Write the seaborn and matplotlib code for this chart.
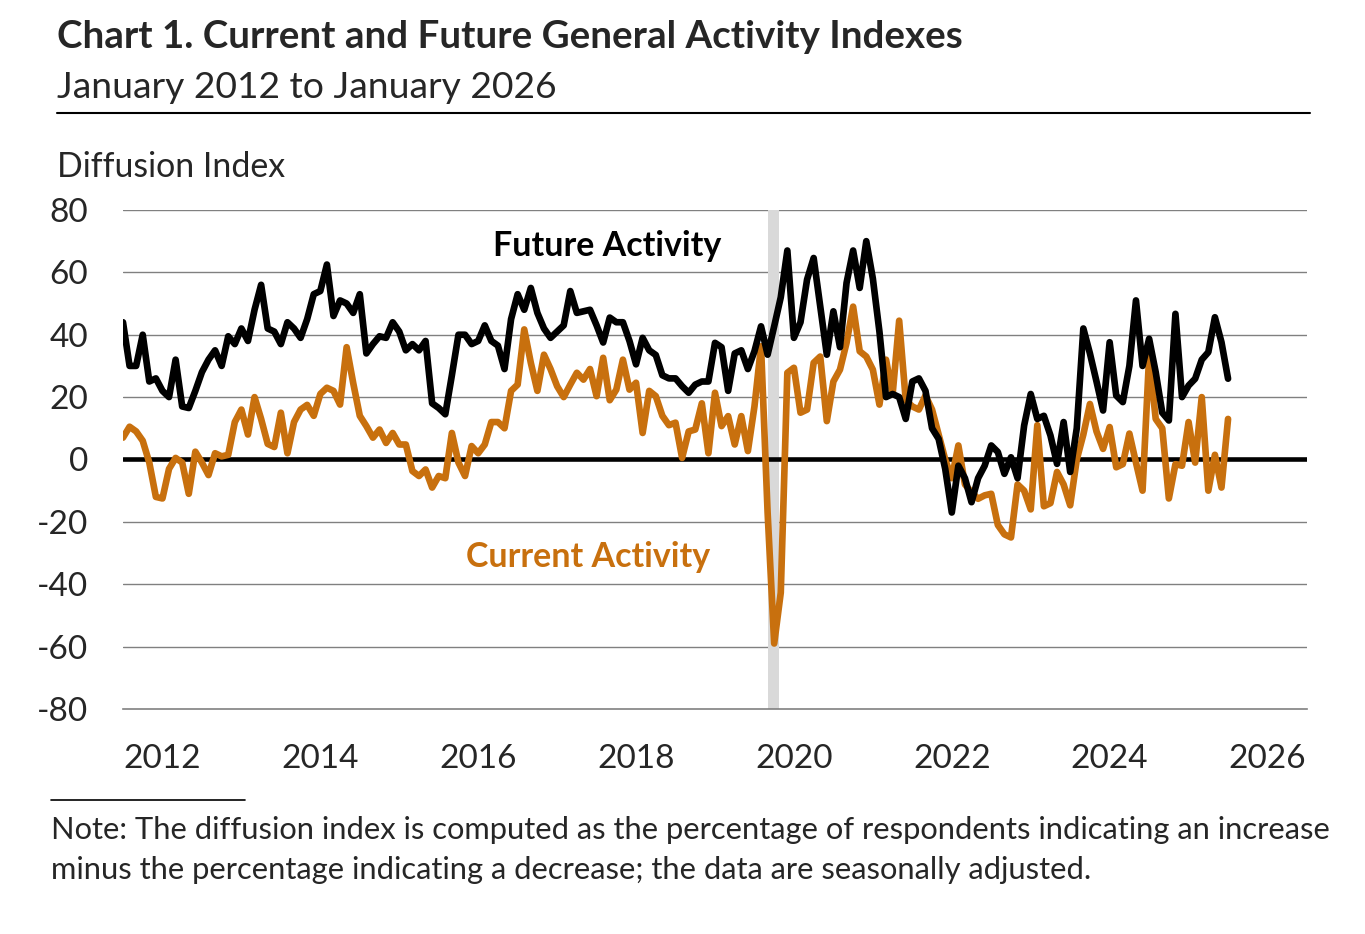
import numpy as np
import pandas as pd
import matplotlib
matplotlib.use("Agg")
import matplotlib.pyplot as plt
import seaborn as sns

# monthly readings, Jan 2012 .. Jan 2026
future_activity = [
    44, 30, 30, 40, 25, 26, 22, 20, 32, 17, 16.5, 22,
    28, 32, 35, 30, 39.5, 37, 42, 38, 48, 56, 42, 41,
    37, 44, 42, 39, 45, 53, 54, 62.5, 46, 51, 50, 47,
    53, 34, 37, 39.5, 39, 44, 41, 35, 37, 35, 38, 18,
    16.5, 14.5, 27, 40, 40, 37, 38, 43, 38, 36.5, 29, 45,
    53, 48, 55, 47, 42, 39, 41, 43, 54, 47, 47.5, 48,
    43, 37.5, 45.5, 44, 44, 38, 30.5, 39, 35, 33.5, 27, 26,
    26, 23.5, 21.4, 24, 25, 25, 37.4, 36, 22, 34, 35, 29,
    34.7, 42.7, 33.6, 42.7, 52, 67, 39, 44, 57.7, 64.6, 49, 33.6,
    47.5, 36, 56.6, 67, 55, 70, 58, 41, 20, 21, 20, 13,
    25, 26, 22, 10, 6.6, -3, -17, -2, -6, -13.7, -6, -2,
    4.5, 2.4, -4.6, 0.7, -6, 10.9, 21, 13, 14, 7.7, -1.4, 12,
    -4, 10, 42, 34, 25, 15.7, 37.6, 20.5, 18.4, 30, 51, 30,
    38.7, 28, 15, 12.5, 46.7, 20, 23.7, 25.9, 32, 34.4, 45.6, 37.6,
    25.9,
]
current_activity = [
    7, 10.5, 9, 6, -1, -12, -12.5, -3, 0.5, -1, -11, 2.5,
    -1, -5, 2, 1, 1.5, 12, 16, 8, 20, 13, 5, 4,
    15, 2, 12, 16, 17.5, 14, 21, 23, 22, 17.6, 36, 24.5,
    14, 10.7, 7, 9.6, 5.3, 8.5, 4.8, 4.8, -3.7, -5.3, -3.2, -9,
    -5.3, -6, 8.5, -1, -5.3, 4.3, 2, 4.8, 12, 12, 10, 22,
    24, 41.7, 31, 22, 33.6, 29, 23.5, 20, 24, 27.8, 25.6, 29,
    20.3, 32.6, 19, 22.4, 32, 22.4, 24.6, 8.5, 22, 20.3, 14, 11,
    11.8, 0.5, 9, 9.6, 18, 2, 21.4, 10.7, 13.9, 4.8, 13.9, 2.7,
    17, 36.3, -17, -59, -42.7, 27.8, 29.4, 15, 16, 31, 33, 12.3,
    25, 28.8, 37.4, 49, 34.7, 33, 28.8, 17.6, 32, 20.8, 44.5, 19,
    17, 16, 20.5, 16, 8, 0, -6, 4.5, -8, -10.5, -12.6, -11.5,
    -11, -21, -24, -25, -8, -10, -16, 11, -15, -14, -4, -8,
    -14.7, 0, 8, 17.8, 9, 3.4, 10.4, -2.5, -1.5, 8.3, -1, -10,
    33, 13, 10, -12.5, -1.5, -2, 12, -1, 20, -10, 1.5, -9,
    13,
]
tick_years = list(range(2012, 2027))
label_years = list(range(2012, 2027, 2))
recession_start = 2020 + 2 / 12
recession_end = 2020 + 3.75 / 12

black = "#000000"
orange = "#C8700E"

n = len(future_activity)
df = pd.DataFrame({
    "date": 2012 + np.arange(n) / 12,
    "Future Activity": future_activity,
    "Current Activity": current_activity,
})
long_df = df.melt(id_vars="date", var_name="series", value_name="value")

sns.set_style("white")
plt.rcParams["font.family"] = ["Lato", "DejaVu Sans"]
plt.rcParams["axes.unicode_minus"] = False

fig = plt.figure(figsize=(13.65, 9.34), dpi=100)
ax = fig.add_axes([0.0901, 0.2409, 0.8674, 0.5343])

for y in range(-60, 81, 20):
    ax.axhline(y, color="#808080", lw=1.0, zorder=0)
ax.axvspan(recession_start, recession_end, color="#d9d9d9", lw=0, zorder=0.5)
ax.axhline(0, color="black", lw=3.3, zorder=1)

sns.lineplot(data=long_df, x="date", y="value", hue="series",
             palette={"Future Activity": black, "Current Activity": orange},
             hue_order=["Current Activity", "Future Activity"],
             lw=4.8, ax=ax, legend=False, zorder=3)

ax.set_xlim(2012, 2027)
ax.set_ylim(-80, 80)
ax.set_yticks(range(-80, 81, 20))
ax.tick_params(axis="y", length=0, labelsize=24, pad=25)
ax.set_xticks(tick_years)
ax.set_xticklabels([])
ax.set_xticks([y + 0.5 for y in label_years], minor=True)
ax.set_xticklabels([str(y) for y in label_years], minor=True)
ax.tick_params(axis="x", which="major", direction="in", length=10, width=1.2, color="#808080")
ax.tick_params(axis="x", which="minor", length=0, labelsize=24, pad=25)
ax.set_xlabel("")
ax.set_ylabel("")
for s in ["top", "right", "left"]:
    ax.spines[s].set_visible(False)
ax.spines["bottom"].set_color("#808080")
ax.spines["bottom"].set_linewidth(1.2)

ax.text(2018.13, 68.3, "Future Activity", color=black, fontsize=24.5,
        fontweight="bold", ha="center", va="center")
ax.text(2017.89, -31.4, "Current Activity", color=orange, fontsize=24.5,
        fontweight="bold", ha="center", va="center")

fig.text(0.042, 0.9604, "Chart 1. Current and Future General Activity Indexes",
         fontsize=27.7, fontweight="bold", va="center")
fig.text(0.042, 0.9058, "January 2012 to January 2026", fontsize=26.8, va="center")
fig.add_artist(plt.Line2D([0.042, 0.96], [0.879, 0.879], color="black", lw=1.5))
fig.text(0.042, 0.8212, "Diffusion Index", fontsize=24.4, va="center")
fig.add_artist(plt.Line2D([0.037, 0.1795], [0.1435, 0.1435], color="black", lw=1.2))
fig.text(0.037, 0.1113, "Note: The diffusion index is computed as the percentage of respondents indicating an increase",
         fontsize=22.2, va="center")
fig.text(0.037, 0.0685, "minus the percentage indicating a decrease; the data are seasonally adjusted.",
         fontsize=22.2, va="center")

fig.savefig("out.png", dpi=100)
